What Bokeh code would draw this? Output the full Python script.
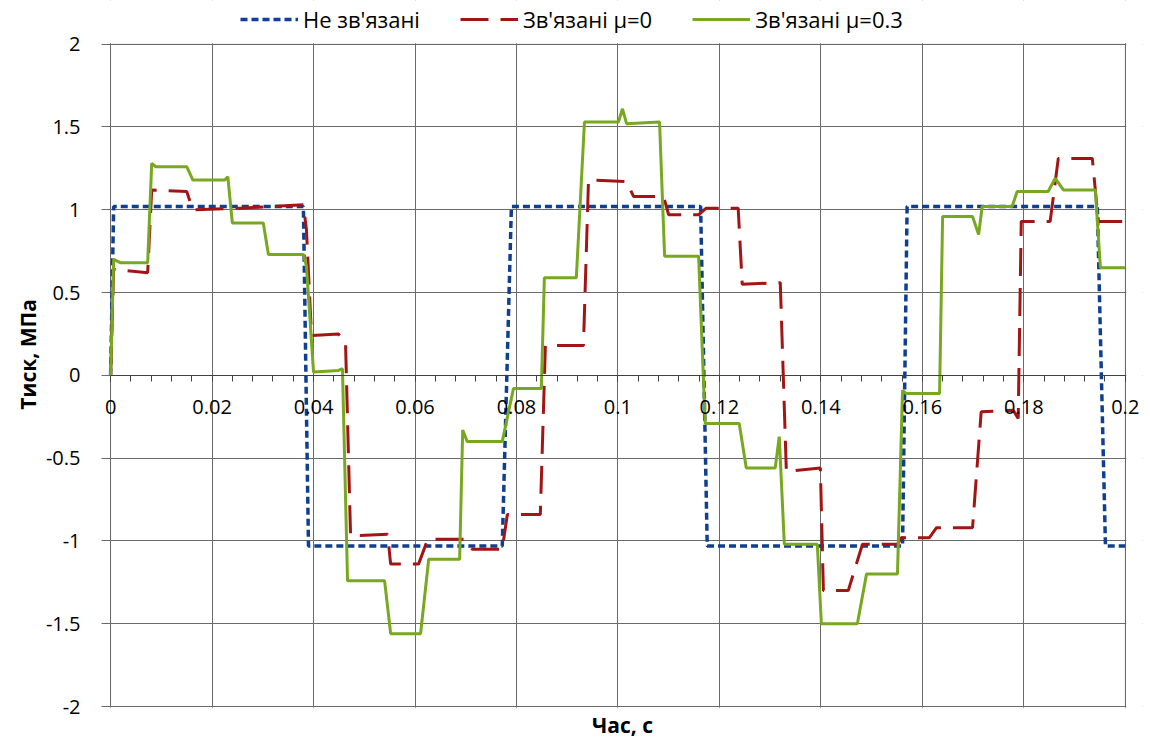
from bokeh.plotting import figure
from bokeh.models import (LinearAxis, SingleIntervalTicker, NumeralTickFormatter, Legend,
                          LegendItem, FixedTicker, Range1d, Grid, BoxAnnotation)
from bokeh.embed import file_html
from bokeh.resources import INLINE

FONT = "Open Sans"

series_labels = ["Не зв'язані", "Зв'язані μ=0", "Зв'язані μ=0.3"]
x_title = "Час, с"
y_title = "Тиск, МПа"

# Не зв'язані
t_free = [0, 0.0006, 0.0380, 0.0390, 0.0772, 0.0790, 0.1163, 0.1176, 0.1561, 0.1570, 0.1945, 0.1961, 0.2]
p_free = [0, 1.02, 1.02, -1.03, -1.03, 1.02, 1.02, -1.03, -1.03, 1.02, 1.02, -1.03, -1.03]

# Зв'язані μ=0
t_mu0 = [0, 0.0006, 0.0073, 0.0081, 0.0150, 0.0162, 0.0256, 0.0380, 0.0386, 0.0396,
         0.0449, 0.0463, 0.0473, 0.0546, 0.0552, 0.0607, 0.0625, 0.0696, 0.0713, 0.0772,
         0.0782, 0.0847, 0.0857, 0.0932, 0.0942, 0.1017, 0.1031, 0.1090, 0.1100, 0.1159,
         0.1174, 0.1237, 0.1245, 0.1320, 0.1332, 0.1399, 0.1405, 0.1454, 0.1482, 0.1551,
         0.1559, 0.1614, 0.1628, 0.1699, 0.1716, 0.1779, 0.1789, 0.1795, 0.1852, 0.1868,
         0.1935, 0.1947, 0.2]
p_mu0 = [0, 0.64, 0.62, 1.12, 1.11, 1.0, 1.01, 1.03, 0.88, 0.24,
         0.25, 0.2, -0.97, -0.96, -1.14, -1.14, -0.99, -0.99, -1.05, -1.05,
         -0.84, -0.84, 0.18, 0.18, 1.18, 1.17, 1.08, 1.08, 0.97, 0.97,
         1.01, 1.01, 0.55, 0.56, -0.58, -0.56, -1.3, -1.3, -1.02, -1.02,
         -0.98, -0.98, -0.92, -0.92, -0.22, -0.21, -0.26, 0.93, 0.93, 1.31,
         1.31, 0.93, 0.93]

# Зв'язані μ=0.3
t_mu03 = [0, 0.0006, 0.0020, 0.0073, 0.0081, 0.0089, 0.0150, 0.0162, 0.0225, 0.0231,
          0.0240, 0.0301, 0.0311, 0.0380, 0.0386, 0.0400, 0.0449, 0.0457, 0.0467, 0.0540,
          0.0552, 0.0611, 0.0627, 0.0688, 0.0694, 0.0703, 0.0772, 0.0794, 0.0849, 0.0855,
          0.0918, 0.0934, 0.1001, 0.1009, 0.1017, 0.1082, 0.1092, 0.1159, 0.1172, 0.1239,
          0.1253, 0.1310, 0.1318, 0.1328, 0.1393, 0.1401, 0.1472, 0.1490, 0.1551, 0.1561,
          0.1568, 0.1634, 0.1640, 0.1699, 0.1711, 0.1718, 0.1777, 0.1787, 0.1848, 0.1862,
          0.1878, 0.1941, 0.1951, 0.2]
p_mu03 = [0, 0.70, 0.68, 0.68, 1.28, 1.26, 1.26, 1.18, 1.18, 1.20,
          0.92, 0.92, 0.73, 0.73, 0.66, 0.02, 0.03, 0.04, -1.24, -1.24,
          -1.56, -1.56, -1.11, -1.11, -0.33, -0.40, -0.40, -0.08, -0.08, 0.59,
          0.59, 1.53, 1.53, 1.61, 1.52, 1.53, 0.72, 0.72, -0.29, -0.29,
          -0.56, -0.56, -0.37, -1.02, -1.02, -1.50, -1.50, -1.20, -1.20, -0.09,
          -0.11, -0.11, 0.96, 0.96, 0.85, 1.02, 1.02, 1.11, 1.11, 1.19,
          1.12, 1.12, 0.65, 0.65]

X_MIN, X_MAX = 0.0, 0.2
Y_MIN, Y_MAX = -2.0, 2.0

BLUE = "#0f3f8f"
RED = "#a31515"
GREEN = "#77a81f"
GRID = "#6a6a6a"

# the frame is a little larger than the data area so that the legend and the
# end tick labels are not clipped; the data area itself is framed by a box
p = figure(width=1146, height=741,
           x_range=Range1d(-0.0016, 0.2034), y_range=Range1d(-2.012, 2.264),
           output_backend="svg", toolbar_location=None,
           x_axis_type=None, y_axis_type=None,
           min_border_left=102, min_border_right=4, min_border_top=0, min_border_bottom=28)
p.outline_line_color = None
p.background_fill_color = "white"
p.border_fill_color = "white"

xticker = SingleIntervalTicker(interval=0.02, num_minor_ticks=5)
yticker = SingleIntervalTicker(interval=0.5, num_minor_ticks=0)

p.add_layout(Grid(dimension=0, ticker=xticker, grid_line_color=GRID, grid_line_width=1))
p.add_layout(Grid(dimension=1, ticker=yticker, grid_line_color=GRID, grid_line_width=1))

# white covers outside the data area
for kw in (dict(bottom=Y_MAX + 0.006), dict(top=Y_MIN - 0.006), dict(left=X_MAX + 0.0002)):
    p.add_layout(BoxAnnotation(fill_color="white", fill_alpha=1, line_color=None,
                               level="underlay", **kw))
p.add_layout(BoxAnnotation(left=X_MIN, right=X_MAX, bottom=Y_MIN, top=Y_MAX,
                           fill_alpha=0, line_color=GRID, line_width=1, level="underlay"))

yaxis = LinearAxis(ticker=yticker, formatter=NumeralTickFormatter(format="0.[0]"),
                   bounds=(Y_MIN, Y_MAX), axis_label=y_title,
                   axis_line_color=None, major_tick_line_color=GRID,
                   major_tick_out=1, major_tick_in=8, minor_tick_out=0, minor_tick_in=0,
                   major_label_standoff=21,
                   major_label_text_font=FONT, major_label_text_font_size="20px",
                   major_label_text_color="#000000",
                   axis_label_text_font=FONT, axis_label_text_font_size="21px",
                   axis_label_text_font_style="bold", axis_label_text_color="#000000",
                   axis_label_standoff=1)
p.add_layout(yaxis, "left")

xaxis = LinearAxis(ticker=xticker, formatter=NumeralTickFormatter(format="0.[00]"),
                   fixed_location=0, bounds=(X_MIN, X_MAX),
                   axis_line_color="#404040", major_tick_line_color="#404040",
                   minor_tick_line_color="#404040",
                   major_tick_out=6, major_tick_in=0, minor_tick_out=6, minor_tick_in=0,
                   major_label_standoff=19,
                   major_label_text_font=FONT, major_label_text_font_size="20px",
                   major_label_text_color="#000000")
p.add_layout(xaxis, "below")

xlab = LinearAxis(ticker=FixedTicker(ticks=[]), axis_label=x_title,
                  axis_line_color=None, major_tick_out=0, major_tick_in=0,
                  minor_tick_out=0, minor_tick_in=0, major_label_text_font_size="0px",
                  axis_label_text_font=FONT, axis_label_text_font_size="21px",
                  axis_label_text_font_style="bold", axis_label_text_color="#000000",
                  axis_label_standoff=2)
p.add_layout(xlab, "below")

r_free = p.line(t_free, p_free, line_color=BLUE, line_width=3.5, line_dash="7 4")
r_mu0 = p.line(t_mu0, p_mu0, line_color=RED, line_width=3, line_dash="28 12")
r_mu03 = p.line(t_mu03, p_mu03, line_color=GREEN, line_width=3)

legend = Legend(items=[LegendItem(label=series_labels[0], renderers=[r_free]),
                       LegendItem(label=series_labels[1], renderers=[r_mu0]),
                       LegendItem(label=series_labels[2], renderers=[r_mu03])],
                orientation="horizontal", location=(138, 674),
                glyph_width=58, glyph_height=22, label_height=22, label_standoff=5,
                spacing=40, padding=0, margin=0,
                border_line_color=None, background_fill_alpha=0,
                label_text_font=FONT, label_text_font_size="22px",
                label_text_color="#000000")
p.add_layout(legend, "center")

open("out.html", "w").write(file_html(p, INLINE))
